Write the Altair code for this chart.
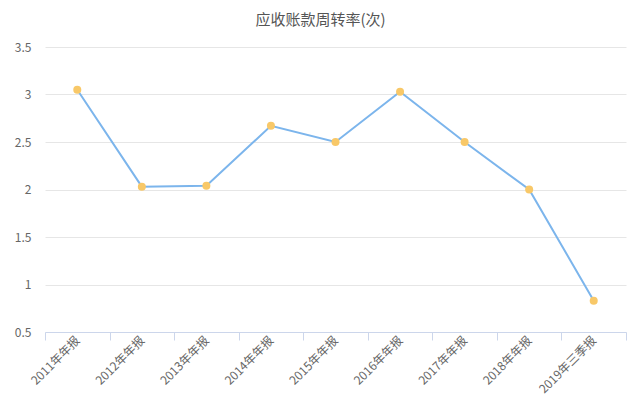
import altair as alt
import pandas as pd

categories = ["2011年年报", "2012年年报", "2013年年报", "2014年年报", "2015年年报",
              "2016年年报", "2017年年报", "2018年年报", "2019年三季报"]
values = [3.05, 2.03, 2.04, 2.67, 2.50, 3.03, 2.50, 2.00, 0.83]

df = pd.DataFrame({"period": categories, "value": values})

font = "Noto Sans CJK SC"

x = alt.X("period:N", sort=categories, title=None,
          scale=alt.Scale(type="band", paddingInner=0, paddingOuter=0),
          axis=alt.Axis(labelAngle=-45, labelAlign="right", labelBaseline="middle",
                        labelColor="#666666", labelFontSize=12, labelFont=font,
                        domainColor="#ccd6eb", tickColor="#ccd6eb", tickSize=8,
                        tickBand="extent", grid=False, labelPadding=-2))
y = alt.Y("value:Q", title=None,
          scale=alt.Scale(domain=[0.5, 3.5], nice=False, zero=False),
          axis=alt.Axis(values=[0.5, 1, 1.5, 2, 2.5, 3, 3.5], labelColor="#666666",
                        labelFontSize=12, labelFont=font, domain=False, ticks=False,
                        gridColor="#e6e6e6", labelPadding=14, labelExpr="datum.value"))

base = alt.Chart(df)
line = base.mark_line(color="#7cb5ec", strokeWidth=2).encode(x=x, y=y)
pts = base.mark_circle(color="#f8c868", size=64, opacity=1).encode(x=x, y=y)

chart = (line + pts).properties(
    width=581, height=285,
    autosize=alt.AutoSizeParams(type="none"),
    padding={"left": 37, "top": 39, "right": 6, "bottom": 70},
    background="white",
    title=alt.TitleParams("应收账款周转率(次)", anchor="middle", fontSize=15,
                          font=font, fontWeight="normal", color="#555555",
                          offset=13, dx=-15),
).configure_view(stroke=None)

chart.save("out.html", embed_options={"renderer": "svg", "actions": False})
